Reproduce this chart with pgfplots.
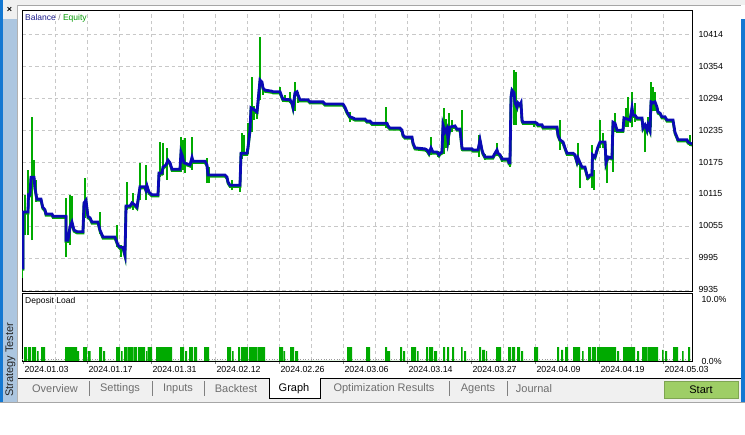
\documentclass[border=0pt]{standalone}
\usepackage{fontspec}
\setmainfont{Liberation Sans}
\usepackage{pgfplots}
\pgfplotsset{compat=1.18}
\usepackage{pgfplotstable}
\definecolor{bal}{RGB}{10,10,180}
\definecolor{eq}{RGB}{0,170,0}
\definecolor{gridc}{RGB}{200,200,200}
\definecolor{tabgray}{RGB}{240,240,240}
\definecolor{tabtext}{RGB}{110,110,110}
\definecolor{startg}{RGB}{158,206,102}
\definecolor{sidebar}{RGB}{172,198,224}
\definecolor{winblue}{RGB}{20,120,210}
\definecolor{navy}{RGB}{28,28,140}

\pgfplotstableread{
x y
22 9976
23 9976
23 10081
28 10081
28.5 10113
30 10113
31 10146
34 10146
35 10126
36.7 10107
37 10105
41 10105
42.7 10090
45 10085
46 10077
52 10077
53 10073
66 10073
66 10028
68 10028
70 10053
72 10062
74 10047
77 10044
83 10044
84 10098
86 10103
88 10072
90 10070
92 10062
98 10062
100 10047
103 10034
115 10034
118 10019
120 10015
123 10015
125 10000
126 10092
130 10092
132 10098
135 10094
137 10090
140 10128
145 10128
146 10122
147 10130
149 10118
152 10113
158 10113
159 10154
162 10154
163 10165
166 10169
168 10178
170 10173
172 10161
180 10161
181 10193
182 10188
184 10173
190 10169
192 10183
193 10176
205 10176
207 10169
208 10150
225 10150
227 10146
228 10137
230 10131
240 10131
241 10191
247 10191
248 10202
250 10234
251 10276
253 10274
257 10268
258 10287
260 10328
262 10324
263 10313
265 10309
272 10307
273 10306
280 10306
282 10296
283 10292
290 10291
292 10285
293 10277
295 10304
297 10306
298 10300
300 10291
308 10291
310 10287
323 10287
325 10283
343 10283
345 10277
347 10268
350 10259
353 10257
355 10255
365 10255
367 10251
370 10251
372 10247
387 10247
388 10242
390 10238
400 10238
402 10234
403 10225
405 10221
412 10221
413 10210
415 10201
425 10199
427 10197
429 10191
431 10201
433 10193
437 10193
439 10188
440 10191
442 10193
443 10244
445 10231
447 10238
448 10216
450 10240
455 10242
457 10236
460 10236
462 10201
463 10199
472 10199
473 10197
478 10197
480 10216
482 10197
483 10191
485 10184
493 10184
495 10191
497 10197
498 10191
500 10188
502 10180
508 10180
509 10173
510 10173
511 10296
512 10309
514 10304
515 10285
517 10277
518 10285
520 10281
521 10285
522 10253
523 10249
535 10249
537 10247
538 10244
542 10244
543 10240
557 10240
558 10225
560 10216
563 10212
565 10201
567 10191
573 10191
575 10188
577 10175
578 10182
580 10173
582 10165
585 10165
587 10150
588 10146
590 10150
592 10150
592.5 10188
595 10184
597 10197
598 10203
600 10212
605 10212
606 10173
608 10184
612 10182
613 10249
615 10247
617 10234
623 10234
624 10257
630 10253
632 10276
633 10262
635 10262
637 10257
642 10257
643 10238
645 10244
647 10234
648 10244
650 10234
651 10287
653 10285
655 10287
657 10277
658 10268
660 10266
662 10259
665 10259
667 10253
673 10253
675 10230
677 10221
678 10216
687 10216
688 10212
692 10208
}\balance

\pgfplotstableread{
x y
22 9957
22 10081
22 nan
25 10038
25 10113
25 nan
28 10038
28 10160
28 nan
32 10028
32 10259
32 nan
34 10141
34 10178
34 nan
36 10100
36 10141
36 nan
66 9997
66 10107
66 nan
70 10019
70 10113
70 nan
72 10050
72 10110
72 nan
85 10070
85 10145
85 nan
100 10040
100 10081
100 nan
117 10015
117 10057
117 nan
121 9997
121 10020
121 nan
127 10085
127 10137
127 nan
133 10085
133 10116
133 nan
140 10103
140 10173
140 nan
146 10103
146 10169
146 nan
160 10146
160 10212
160 nan
163 10150
163 10210
163 nan
167 10141
167 10201
167 nan
181 10155
181 10221
181 nan
183 10160
183 10216
183 nan
185 10154
185 10219
185 nan
192 10160
192 10221
192 nan
207 10135
207 10182
207 nan
209 10135
209 10165
209 nan
232 10122
232 10140
232 nan
240 10118
240 10135
240 nan
242 10180
242 10229
242 nan
244 10185
244 10225
244 nan
248 10190
248 10248
248 nan
252 10230
252 10334
252 nan
254 10253
254 10280
254 nan
257 10255
257 10275
257 nan
260 10290
260 10408
260 nan
263 10300
263 10315
263 nan
280 10300
280 10315
280 nan
285 10287
285 10300
285 nan
290 10285
290 10306
290 nan
295 10270
295 10324
295 nan
298 10285
298 10306
298 nan
350 10249
350 10268
350 nan
386 10238
386 10277
386 nan
431 10188
431 10221
431 nan
438 10184
438 10195
438 nan
444 10190
444 10276
444 nan
446 10200
446 10255
446 nan
449 10206
449 10266
449 nan
452 10230
452 10253
452 nan
462 10195
462 10272
462 nan
479 10184
479 10225
479 nan
485 10178
485 10190
485 nan
497 10185
497 10210
497 nan
502 10174
502 10185
502 nan
510 10165
510 10180
510 nan
514 10244
514 10347
514 nan
516 10244
516 10343
516 nan
534 10240
534 10249
534 nan
560 10197
560 10253
560 nan
578 10169
578 10210
578 nan
580 10126
580 10175
580 nan
587 10140
587 10155
587 nan
592 10126
592 10206
592 nan
594 10122
594 10160
594 nan
600 10200
600 10253
600 nan
603 10200
603 10229
603 nan
607 10135
607 10175
607 nan
613 10156
613 10240
613 nan
615 10230
615 10266
615 nan
626 10240
626 10276
626 nan
628 10240
628 10296
628 nan
632 10240
632 10306
632 nan
635 10250
635 10285
635 nan
645 10193
645 10244
645 nan
648 10230
648 10259
648 nan
651 10240
651 10324
651 nan
653 10270
653 10315
653 nan
655 10270
655 10306
655 nan
690 10205
690 10225
}\spikes

\pgfplotstableread{
x y
22 0
24 2.25
27 0
28 2.25
31 0
32 2.25
36 0
37 1.6
38.5 0
41 2.25
45 0
65 2.25
77 1.6
79 0
83 2.25
87 0
88 1.6
90.5 0
99 2.25
102 0
103 1.6
105 0
116 2.25
120 0
121 1.6
122.5 0
124 2.25
127 0
127.5 2.25
133 0
133.5 2.25
137 0
138 2.25
145 0
146 1.6
147 0
147.5 2.25
152 0
156 2.25
172 0
180 2.25
184 0
185 1.6
187 0
189 2.25
193 0
194 2.25
197 0
204 2.25
209 0
227 2.25
231 0
232 1.6
233.5 0
238 2.25
240 0
241 2.25
248 0
249 2.25
257 0
257.5 2.25
265 0
279 2.25
283 0
283.5 1.6
285 0
290 2.25
294 0
295 1.6
298 0
347 2.25
352 0
366 2.25
370 0
385 2.25
387 1.6
390 0
400 2.25
402 0
403 1.6
405 0
411 2.25
416 0
417 1.6
418.5 0
426 2.25
428 0
429 2.25
433 0
434 1.6
437 0
443 2.25
445 0
447 2.25
449 0
452 2.25
454 0
461 2.25
462.5 0
464 1.6
466 0
479 2.25
481 0
482 1.8
485 0
486 1.6
487 0
496 2.25
501 0
508 2.25
511 0
512 2.25
515 0
517 2.25
520 0
521 1.6
523 0
534 2.25
538 0
557 2.25
559 0
561 1.8
563 0
565 2.25
568 0
573 2.25
580 0
582 1.6
583.5 0
588 2.25
591 0
592 2.25
596 0
597 2.25
616 0
617 1.6
619 0
623 2.25
635 0
637 1.6
639 0
642 2.25
647 0
647.5 2.25
658 0
662 1.8
663.5 0
665 1.6
667 0
673 2.25
678 0
682 1.6
683.5 0
688 2.25
690 0
}\deposit

\begin{document}
\begin{tikzpicture}[x=1pt,y=1pt]
\useasboundingbox (0,0) rectangle (745,435);
\fill[white] (0,0) rectangle (745,435);
% window chrome
\fill[tabgray] (0,430) rectangle (745,435);
\draw[gray!70, line width=0.8pt] (17,430) -- (741,430);
\fill[winblue] (0,33) rectangle (3,435);
\fill[sidebar] (3,33) rectangle (17,416);
\fill[tabgray] (3,416) rectangle (17,435);
\node[font=\bfseries\fontsize{9}{10}\selectfont] at (9.5,425) {×};
\draw[gray!60, line width=0.7pt] (17.5,33) -- (17.5,430);
\fill[winblue] (741,33) rectangle (745,416);
\node[rotate=90, font=\fontsize{11}{12}\selectfont, text=black!85] at (10.5,75) {Strategy Tester};
% tab bar
\fill[tabgray] (18,32) rectangle (741,57);
\draw[black, line width=0.8pt] (18,57) -- (741,57);
\draw[gray!70, line width=0.8pt] (0,32.5) -- (745,32.5);
\filldraw[fill=white, draw=black, line width=0.8pt] (269,57) -- (269,37) -- (320,37) -- (320,57);
\foreach \sx in {89,152,204,449,507} \draw[gray, line width=0.8pt] (\sx,39) -- (\sx,54);
\begin{scope}[every node/.style={font=\fontsize{11}{12}\selectfont, text=tabtext}]
\node at (55,46) {Overview};
\node at (120,46) {Settings};
\node at (178,46) {Inputs};
\node at (236,46) {Backtest};
\node[text=black] at (294,46) {Graph};
\node at (384,46) {Optimization Results};
\node at (478,46) {Agents};
\node at (534,46) {Journal};
\end{scope}
\filldraw[fill=startg, draw=startg!80!black, line width=0.6pt] (664,37) rectangle (738,54);
\node[font=\fontsize{11}{12}\selectfont] at (701,45) {Start};

% top chart
\begin{axis}[
  at={(22pt,144pt)}, anchor=south west, scale only axis,
  width=670pt, height=281pt,
  xmin=22, xmax=692, ymin=9933, ymax=10459,
  scaled x ticks=false, scaled y ticks=false,
  axis background/.style={fill=white},
  axis line style={black, line width=0.9pt},
  xtick={55,87,...,663}, xticklabel=\empty, xtick style={draw=none},
  ytick={9935,9994.875,10054.75,10114.625,10174.5,10234.375,10294.25,10354.125,10414},
  yticklabels={9935,9995,10055,10115,10175,10235,10294,10354,10414},
  ytick pos=right, yticklabel pos=right, ytick style={draw=none},
  yticklabel style={font=\fontsize{8.8}{10}\selectfont, anchor=west, xshift=3pt},
  /pgf/number format/assume math mode=true,
  xmajorgrids, ymajorgrids,
  grid style={gridc, dash pattern=on 3.5pt off 3pt, line width=0.8pt},
  clip=true,
]
\addplot[eq, line width=2.6pt, yshift=-1.3pt] table {\balance};
\addplot[eq, line width=2.9pt, unbounded coords=jump] table {\spikes};
\addplot[bal, line width=2.8pt] table {\balance};
\node[anchor=north west, inner sep=0pt, font=\fontsize{8.5}{10}\selectfont] at ([xshift=3pt,yshift=-4pt]rel axis cs:0,1) {\textcolor{navy}{Balance} \textcolor{gray}{/} \textcolor{eq!90!black}{Equity}};
\end{axis}

% deposit load
\begin{axis}[
  at={(22pt,74pt)}, anchor=south west, scale only axis,
  width=670pt, height=68pt,
  xmin=22, xmax=692, ymin=0, ymax=11.1,
  scaled x ticks=false, scaled y ticks=false,
  axis background/.style={fill=white},
  axis line style={black, line width=0.9pt},
  xtick={23,87,151,215,279,343,407,471,535,599,663},
  xticklabels={2024.01.03,2024.01.17,2024.01.31,2024.02.12,2024.02.26,2024.03.06,2024.03.14,2024.03.27,2024.04.09,2024.04.19,2024.05.03},
  xtick pos=left, tick align=outside, major tick length=3pt,
  xticklabel style={font=\fontsize{8.8}{10}\selectfont, anchor=north west, xshift=-2pt, yshift=1pt},
  minor xtick={55,87,...,663}, xminorgrids, minor tick length=0pt,
  minor grid style={gridc, dash pattern=on 3.5pt off 3pt, line width=0.8pt},
  ytick={0,10}, yticklabels={0.0\%,10.0\%},
  ytick pos=right, yticklabel pos=right, ytick style={draw=none},
  yticklabel style={font=\fontsize{8.8}{10}\selectfont, anchor=west, xshift=3pt},
  /pgf/number format/assume math mode=true,
  clip=true,
]
\addplot[gray!80, dotted, line width=0.6pt] coordinates {(22,0.25) (692,0.25)};
\addplot[fill=eq, draw=none, const plot mark left] table {\deposit} \closedcycle;
\node[anchor=north west, inner sep=0pt, font=\fontsize{8.5}{10}\selectfont] at ([xshift=3pt,yshift=-4pt]rel axis cs:0,1) {Deposit Load};
\end{axis}
\end{tikzpicture}
\end{document}
